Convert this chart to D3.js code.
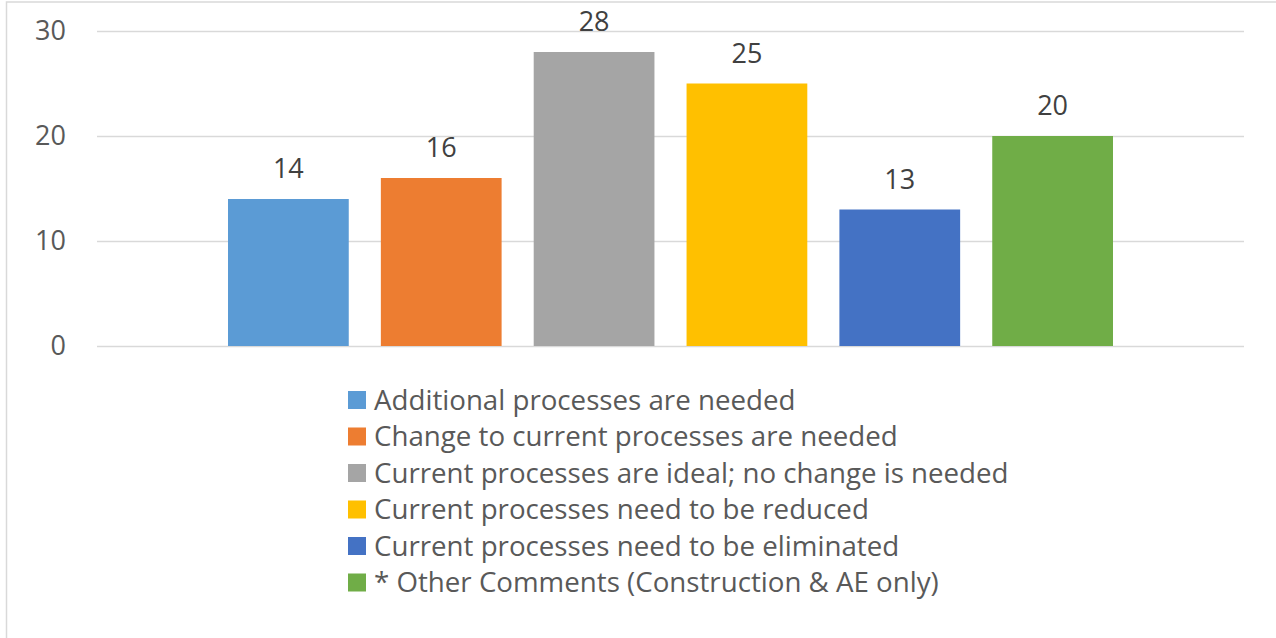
<!DOCTYPE html>
<html>
<head>
<meta charset="utf-8">
<script src="https://cdn.jsdelivr.net/npm/d3@7/dist/d3.min.js"></script>
<style>
  html, body { margin: 0; padding: 0; background: #fff; }
  svg { display: block; }
  text { font-family: "Open Sans", "Noto Sans", sans-serif; }
</style>
</head>
<body>
<svg id="chart" width="1276" height="638"></svg>
<script>
// Survey responses: one bar per answer
const series = [
  "Additional processes are needed",
  "Change to current processes are needed",
  "Current processes are ideal; no change is needed",
  "Current processes need to be reduced",
  "Current processes need to be eliminated",
  "* Other Comments (Construction & AE only)"
];
const values = [14, 16, 28, 25, 13, 20];
const colors = ["#5B9BD5", "#ED7D31", "#A5A5A5", "#FFC000", "#4472C4", "#70AD47"];
const yTicks = [0, 10, 20, 30];

const svg = d3.select("#chart");

// outer chart border
svg.append("rect")
  .attr("x", 6.5).attr("y", 2)
  .attr("width", 1400).attr("height", 800)
  .attr("fill", "none").attr("stroke", "#d9d9d9").attr("stroke-width", 1.5);

const plot = { left: 97, right: 1244, top: 31, bottom: 346 };

const y = d3.scaleLinear().domain([0, 30]).range([plot.bottom, plot.top]);

// single category group; series bars laid out within it
const x = d3.scaleBand()
  .domain(series)
  .range([228, 1113])
  .paddingInner(0.21)
  .paddingOuter(0);

// gridlines
const yAxis = d3.axisLeft(y)
  .tickValues(yTicks)
  .tickSize(-(plot.right - plot.left))
  .tickPadding(31);

const gAxis = svg.append("g")
  .attr("transform", `translate(${plot.left},0)`)
  .call(yAxis);
gAxis.select(".domain").remove();
gAxis.selectAll(".tick line")
  .attr("stroke", "#d9d9d9").attr("stroke-width", 1.5);
gAxis.selectAll(".tick text")
  .attr("fill", "#595959")
  .style("font-size", "27px")
  .style("font-family", "\"Open Sans\", sans-serif");

// bars
svg.append("g").selectAll("rect")
  .data(series)
  .join("rect")
  .attr("x", d => x(d))
  .attr("width", x.bandwidth())
  .attr("y", (d, i) => y(values[i]))
  .attr("height", (d, i) => y(0) - y(values[i]))
  .attr("fill", (d, i) => colors[i]);

// value labels
svg.append("g").selectAll("text")
  .data(series)
  .join("text")
  .attr("x", d => x(d) + x.bandwidth() / 2)
  .attr("y", (d, i) => y(values[i]) - 21)
  .attr("text-anchor", "middle")
  .attr("fill", "#404040")
  .style("font-size", "27px")
  .text((d, i) => values[i]);

// legend
const legend = svg.append("g").attr("transform", "translate(348,400)");
const rowH = 36.5;
const item = legend.selectAll("g")
  .data(series)
  .join("g")
  .attr("transform", (d, i) => `translate(0,${i * rowH})`);
item.append("rect")
  .attr("x", 0).attr("y", -9)
  .attr("width", 18).attr("height", 18)
  .attr("fill", (d, i) => colors[i]);
item.append("text")
  .attr("x", 26)
  .attr("y", 0)
  .attr("dy", "0.36em")
  .attr("fill", "#595959")
  .style("font-size", "27.7px")
  .text(d => d);
</script>
</body>
</html>
